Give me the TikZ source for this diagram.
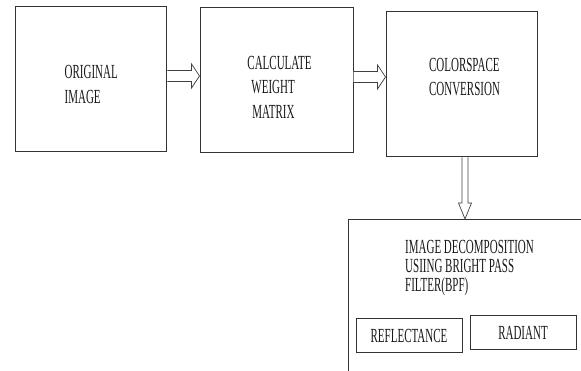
\documentclass[tikz,border=0pt]{standalone}
\usepackage{fontspec}
\setmainfont{Liberation Serif}[FakeStretch=0.55]
\usetikzlibrary{calc,positioning}

\begin{document}
\begin{tikzpicture}[x=1pt, y=1pt,
  blockbox/.style={rectangle, draw=black!80, line width=1pt,
               minimum width=151pt, minimum height=145pt, inner sep=0pt},
  subbox/.style={rectangle, draw=black!80, line width=1pt,
               minimum width=106pt, minimum height=34pt, inner sep=0pt,
               font=\fontsize{20}{19}\selectfont, text=black!90},
  blocktext/.style={font=\fontsize{20}{24.5}\selectfont, text=black!90,
               align=left, inner sep=0pt},
  hollow/.style={draw=black!75, line width=0.7pt, line join=miter, fill=white},
]
\useasboundingbox (0,0) rectangle (581,371);
\clip (0,0) rectangle (581,371);

% processing blocks
\node[blockbox] (orig) at (91.25,291.5) {};
\node[blockbox, minimum width=153pt] (weight) at (276.5,290.5) {};
\node[blockbox] (color) at (461.5,286.5) {};
\node[blockbox, minimum width=270pt, minimum height=190pt, anchor=north west]
  (decomp) at (348,152) {};

\node[blocktext] (origtxt) at ($(orig.center)+(0,-5)$) {ORIGINAL\\IMAGE};
\node[blocktext] (weighttxt) at ($(weight.center)+(3,-6.5)$)
  {CALCULATE\\\hspace*{4pt}WEIGHT\\\hspace*{5pt}MATRIX};
\node[blocktext] (colortxt) at ($(color.center)+(3,7.5)$) {COLORSPACE\\CONVERSION};
\node[blocktext, font=\fontsize{20}{19}\selectfont, anchor=west] (decomptxt)
  at ($(decomp.north west)+(57,-49)$)
  {IMAGE DECOMPOSITION\\USIING BRIGHT PASS\\FILTER(BPF)};

% output components
\node[subbox] (refl) at (409,35) {REFLECTANCE};
\node[subbox, right=7pt of refl, yshift=3pt] (rad) {RADIANT};

% hollow arrows
\foreach \a/\b in {orig/weight, weight/color} {
  \coordinate (c) at ($(\a.east)+(0,3.5)$);
  \draw[hollow] ($(c)+(0,5.5)$) -- ($(\b.west |- c)+(-8,5.5)$)
    -- ($(\b.west |- c)+(-8,12)$) -- (\b.west |- c)
    -- ($(\b.west |- c)+(-8,-12)$) -- ($(\b.west |- c)+(-8,-5.5)$)
    -- ($(c)+(0,-5.5)$);
}
\coordinate (d) at ($(color.south)+(3.5,0)$);
\draw[hollow] ($(d)+(-3,0)$) -- ($(d |- decomp.north)+(-3,16)$)
  -- ($(d |- decomp.north)+(-6.5,16)$) -- (d |- decomp.north)
  -- ($(d |- decomp.north)+(6.5,16)$) -- ($(d |- decomp.north)+(3,16)$)
  -- ($(d)+(3,0)$);

\end{tikzpicture}
\end{document}
